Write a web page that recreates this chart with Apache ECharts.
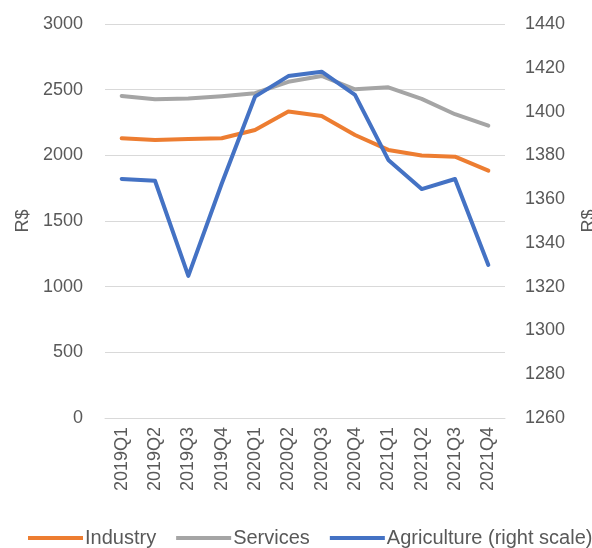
<!DOCTYPE html>
<html>
<head>
<meta charset="utf-8">
<script src="https://cdn.jsdelivr.net/npm/echarts@6/dist/echarts.min.js"></script>
<style>
html,body{margin:0;padding:0;background:#fff;}
#chart{width:592px;height:548px;}
</style>
</head>
<body>
<div id="chart"></div>
<script>
// quarters on the x axis
var quarters = ['2019Q1','2019Q2','2019Q3','2019Q4','2020Q1','2020Q2','2020Q3','2020Q4','2021Q1','2021Q2','2021Q3','2021Q4'];
// left scale, R$
var industry = [2130, 2117, 2125, 2130, 2193, 2333, 2300, 2155, 2041, 1998, 1990, 1883];
var services = [2452, 2427, 2432, 2450, 2473, 2560, 2604, 2503, 2518, 2430, 2313, 2226];
// right scale, R$
var agriculture = [1369.2, 1368.4, 1324.9, 1367, 1406.8, 1416.2, 1418.2, 1407.6, 1377.9, 1364.6, 1369.2, 1329.9];

var fontFam = 'Liberation Sans';
var txtColor = '#595959';
function plain(v) { return String(v); }

var myChart = echarts.init(document.getElementById('chart'));
var option = {
    animation: false,
    textStyle: {fontFamily: fontFam},
    grid: {left: 105, right: 87, top: 24, bottom: 130, outerBoundsMode: 'none', containLabel: false},
    legend: {
        top: 528,
        left: 28,
        width: 700,
        padding: 0,
        itemGap: 20,
        itemWidth: 55,
        itemHeight: 4,
        icon: 'rect',
        textStyle: {fontFamily: fontFam, fontSize: 20, color: txtColor, padding: [0, 0, 0, -3]},
        data: ['Industry', 'Services', 'Agriculture (right scale)']
    },
    xAxis: {
        type: 'category',
        data: quarters,
        axisLine: {lineStyle: {color: '#d9d9d9', width: 1}},
        axisTick: {show: false},
        axisLabel: {rotate: 90, fontSize: 18, color: txtColor, margin: 9, fontFamily: fontFam}
    },
    yAxis: [
        {
            type: 'value',
            min: 0,
            max: 3000,
            interval: 500,
            name: 'R$',
            nameLocation: 'middle',
            nameRotate: 90,
            nameGap: 67,
            nameTextStyle: {fontSize: 18, color: txtColor, fontFamily: fontFam},
            axisLine: {show: false},
            axisTick: {show: false},
            axisLabel: {fontSize: 18, color: txtColor, margin: 22, fontFamily: fontFam, formatter: plain},
            splitLine: {lineStyle: {color: '#d9d9d9', width: 1}}
        },
        {
            type: 'value',
            min: 1260,
            max: 1440,
            interval: 20,
            position: 'right',
            name: 'R$',
            nameLocation: 'middle',
            nameRotate: 90,
            nameGap: 75,
            nameTextStyle: {fontSize: 18, color: txtColor, fontFamily: fontFam},
            axisLine: {show: false},
            axisTick: {show: false},
            axisLabel: {fontSize: 18, color: txtColor, margin: 20, fontFamily: fontFam, formatter: plain},
            splitLine: {show: false}
        }
    ],
    series: [
        {
            name: 'Industry',
            type: 'line',
            data: industry,
            showSymbol: false,
            symbol: 'none',
            itemStyle: {color: '#ed7d31'},
            lineStyle: {color: '#ed7d31', width: 4, cap: 'round', join: 'round'}
        },
        {
            name: 'Services',
            type: 'line',
            data: services,
            showSymbol: false,
            symbol: 'none',
            itemStyle: {color: '#a5a5a5'},
            lineStyle: {color: '#a5a5a5', width: 4, cap: 'round', join: 'round'}
        },
        {
            name: 'Agriculture (right scale)',
            type: 'line',
            yAxisIndex: 1,
            data: agriculture,
            showSymbol: false,
            symbol: 'none',
            itemStyle: {color: '#4472c4'},
            lineStyle: {color: '#4472c4', width: 4, cap: 'round', join: 'round'}
        }
    ]
};
myChart.setOption(option);
</script>
</body>
</html>
